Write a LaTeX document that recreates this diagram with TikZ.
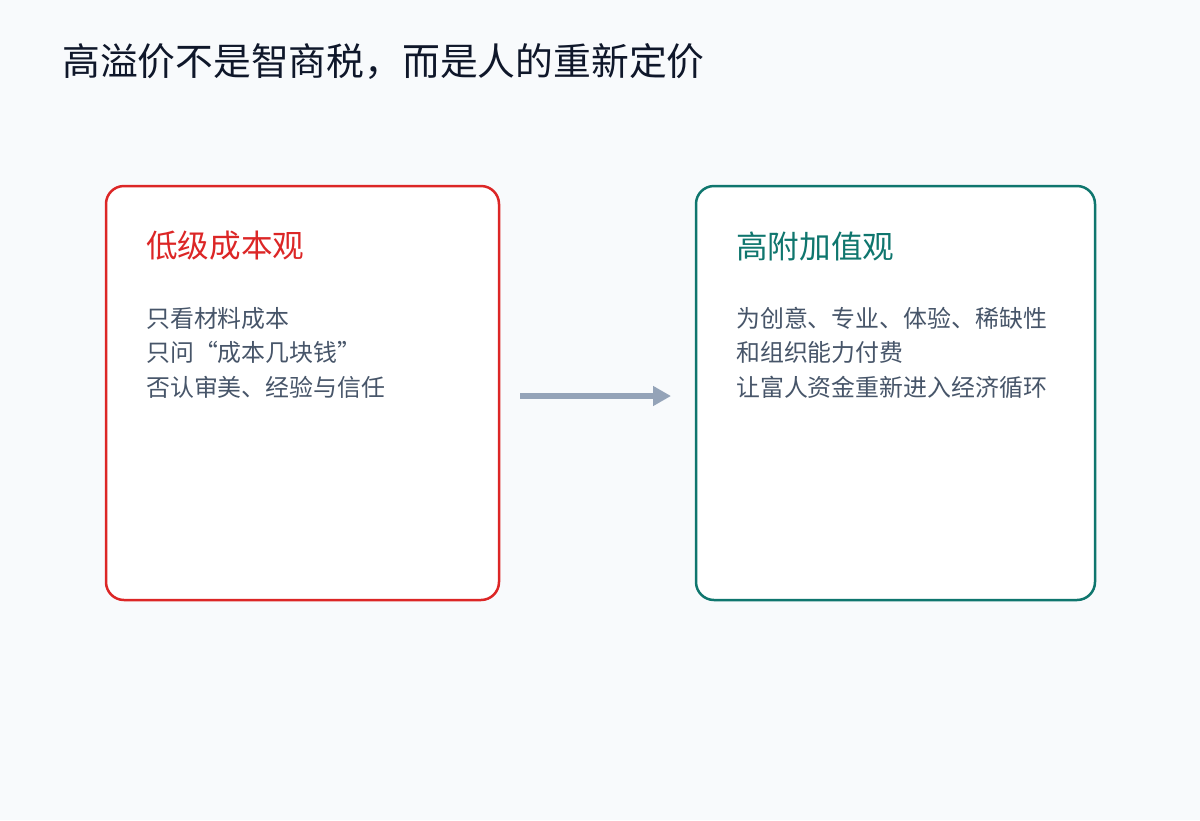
\documentclass[tikz,border=0pt]{standalone}
\usepackage{fontspec}
\setmainfont{Noto Sans CJK SC}
\usetikzlibrary{arrows.meta}
\definecolor{bgc}{HTML}{F8FAFC}
\definecolor{redc}{HTML}{DC2626}
\definecolor{tealc}{HTML}{0F766E}
\definecolor{bodyc}{HTML}{475569}
\definecolor{titlec}{HTML}{0F172A}
\definecolor{arrowc}{HTML}{94A3B8}
\tikzset{
  card/.style={draw=#1, line width=2.5pt, fill=white, rounded corners=18pt},
  heading/.style={anchor=west, inner sep=0pt, text=#1, font=\fontsize{31.6}{36}\selectfont},
  bodytext/.style={anchor=north west, inner sep=0pt, text=bodyc, align=left, font=\fontsize{23.9}{34.5}\selectfont},
  flow/.style={draw=arrowc, line width=6pt, -{Triangle[length=18pt,width=19pt]}}
}
\begin{document}
\begin{tikzpicture}[x=1pt,y=1pt]
\useasboundingbox (0,0) rectangle (1200,-820);
\fill[bgc] (0,0) rectangle (1200,-820);
\node[anchor=west, inner sep=0pt, text=titlec, font=\fontsize{37.8}{42}\selectfont] (title) at (62,-62) {高溢价不是智商税，而是人的重新定价};
\draw[card=redc] (106,-186) rectangle (499,-600);
\draw[card=tealc] (696,-186) rectangle (1095,-600);
\node (lbox) at (302.5,-393) {};
\node (rbox) at (895.5,-393) {};
\node[heading=redc] (lh) at (146,-246) {低级成本观};
\node[heading=tealc] (rh) at (736,-246) {高附加值观};
\node[bodytext] (lb) at (146,-307) {只看材料成本\\只问“成本几块钱”\\否认审美、经验与信任};
\node[bodytext] (rb) at (736,-307) {为创意、专业、体验、稀缺性\\和组织能力付费\\让富人资金重新进入经济循环};
\coordinate (a1) at (520,-396);
\coordinate (a2) at (671,-396);
\draw[flow] (a1) -- (a2);
\end{tikzpicture}
\end{document}
